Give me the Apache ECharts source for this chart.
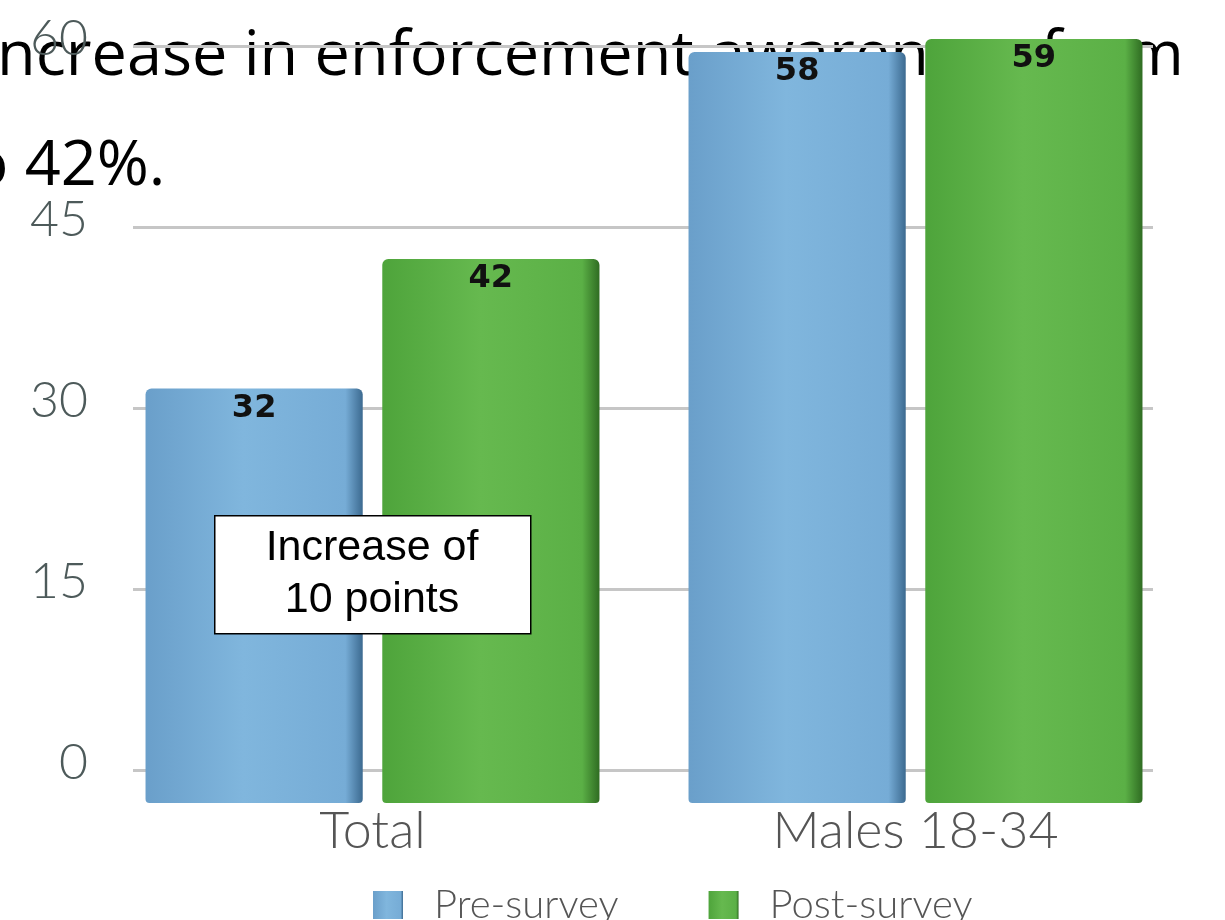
<!DOCTYPE html>
<html>
<head>
<meta charset="utf-8">
<script src="https://cdn.jsdelivr.net/npm/echarts@6/dist/echarts.min.js"></script>
<style>
  html, body { margin: 0; padding: 0; background: #fff; }
  #chart { width: 1225px; height: 920px; }
</style>
</head>
<body>
<div id="chart"></div>
<script>
const categories = ['Total', 'Males 18-34']
const seriesNames = ['Pre-survey', 'Post-survey']
const preSurvey = [32, 58]
const postSurvey = [42, 59]
const yTicks = [0, 15, 30, 45, 60]
const headlineLines = ['ncrease in enforcement awareness from', 'to 42%.']
const noteText = 'Increase of\n10 points'

const chart = echarts.init(document.getElementById('chart'))

// left-to-right shading gives the bars a slightly rounded, 3D look
const shade = (a, b, c, d) => ({
  type: 'linear', x: 0, y: 0, x2: 1, y2: 0,
  colorStops: [
    { offset: 0, color: a },
    { offset: 0.45, color: b },
    { offset: 0.92, color: c },
    { offset: 1, color: d },
  ],
})

const barLabel = {
  show: true,
  position: 'insideTop',
  distance: 4,
  color: '#111',
  fontFamily: 'DejaVu Sans',
  fontWeight: 'bold',
  fontSize: 32,
}

const yMin = yTicks[0]
const yMax = yTicks[yTicks.length - 1]

const option = {
  backgroundColor: '#fff',
  animation: false,
  // grid 0 carries the tick labels and gridlines, grid 1 the (offset, 3D-ish) bars
  grid: [
    { left: 133, right: 72, top: 46, bottom: 150 },
    { left: 101, right: 38, top: 26, bottom: 117 },
  ],
  legend: {
    data: seriesNames,
    top: 880,
    left: 368,
    itemWidth: 30,
    itemHeight: 28,
    itemGap: 90,
    icon: 'rect',
    textStyle: {
      fontFamily: 'Lato',
      fontWeight: 300,
      fontSize: 40,
      color: '#555',
      padding: [0, 0, 0, 26],
    },
  },
  xAxis: [
    {
      type: 'category',
      gridIndex: 0,
      data: categories,
      show: false,
    },
    {
      type: 'category',
      gridIndex: 1,
      data: categories,
      axisLine: { show: false },
      axisTick: { show: false },
      axisLabel: {
        margin: 2,
        fontFamily: 'Lato',
        fontWeight: 300,
        fontSize: 52,
        color: '#555',
      },
    },
  ],
  yAxis: [
    {
      type: 'value',
      gridIndex: 0,
      min: yMin,
      max: yMax,
      interval: 15,
      axisLine: { show: false },
      axisTick: { show: false },
      axisLabel: {
        margin: 45,
        fontFamily: 'Lato',
        fontWeight: 300,
        fontSize: 50,
        color: '#4d5a5a',
        verticalAlign: 'bottom',
        lineHeight: 14,
      },
      splitLine: { lineStyle: { color: '#c6c6c6', width: 3 } },
    },
    {
      type: 'value',
      gridIndex: 1,
      min: yMin,
      max: yMax,
      show: false,
      splitLine: { show: false },
    },
  ],
  series: [
    {
      name: seriesNames[0],
      type: 'bar',
      xAxisIndex: 1,
      yAxisIndex: 1,
      data: preSurvey,
      barWidth: '40%',
      barGap: '9%',
      itemStyle: {
        color: shade('#6a9fca', '#80b6dd', '#76acd6', '#3c6a90'),
        borderRadius: [6, 6, 4, 4],
      },
      label: barLabel,
    },
    {
      name: seriesNames[1],
      type: 'bar',
      xAxisIndex: 1,
      yAxisIndex: 1,
      data: postSurvey,
      barWidth: '40%',
      itemStyle: {
        color: shade('#4ea43b', '#66b94f', '#5bb046', '#2f6c22'),
        borderRadius: [6, 6, 4, 4],
      },
      label: barLabel,
    },
  ],
  graphic: [
    {
      type: 'text',
      z: -1,
      left: -3,
      top: 26,
      style: {
        text: headlineLines[0],
        font: '63px "Open Sans"',
        fill: '#000',
      },
    },
    {
      type: 'text',
      z: -1,
      left: -52,
      top: 136,
      style: {
        text: headlineLines[1],
        font: '63px "Open Sans"',
        fill: '#000',
      },
    },
    {
      type: 'rect',
      z: 100,
      left: 214,
      top: 515,
      shape: { x: 0, y: 0, width: 316, height: 118 },
      style: { fill: '#fff', stroke: '#000', lineWidth: 1.5 },
    },
    {
      type: 'text',
      z: 101,
      x: 372,
      y: 574,
      style: {
        text: noteText,
        font: '43px "Liberation Sans"',
        fill: '#000',
        align: 'center',
        verticalAlign: 'middle',
        lineHeight: 52,
      },
    },
  ],
}

chart.setOption(option)
</script>
</body>
</html>
